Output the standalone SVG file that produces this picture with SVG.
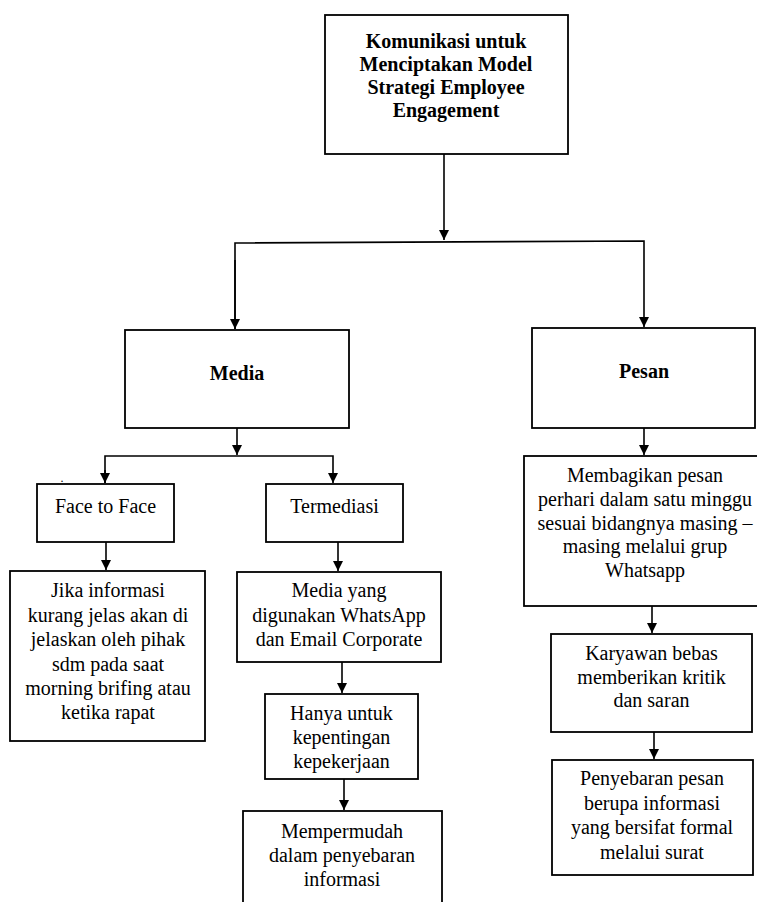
<svg xmlns="http://www.w3.org/2000/svg" width="757" height="902" viewBox="0 0 757 902">
<style>
.box{fill:#fff;stroke:#000;stroke-width:1.8}
.t{font-family:"Liberation Serif","Times New Roman",serif;font-size:20px;fill:#000;text-anchor:middle}
.b{font-weight:bold}
.c{fill:none;stroke:#000;stroke-width:1.6}
</style>
<defs>
<marker id="ah" markerUnits="userSpaceOnUse" markerWidth="10" markerHeight="10" refX="10" refY="5" orient="auto">
<path d="M0,0 L10,5 L0,10 z" fill="#000"/>
</marker>
</defs>
<rect width="757" height="902" fill="#fff"/>
<g id="connectors">
<line class="c" x1="444" y1="154" x2="444" y2="240" marker-end="url(#ah)"/>
<polyline class="c" points="235,329 235,243 644,241 644,327" marker-end="url(#ah)"/>
<line class="c" x1="235" y1="260" x2="235" y2="329" marker-end="url(#ah)"/>
<line class="c" x1="237" y1="428" x2="237" y2="455" marker-end="url(#ah)"/>
<polyline class="c" points="105,483 105,456 333,456 333,483" marker-end="url(#ah)"/>
<line class="c" x1="105" y1="470" x2="105" y2="483" marker-end="url(#ah)"/>
<line class="c" x1="106" y1="542" x2="106" y2="570" marker-end="url(#ah)"/>
<line class="c" x1="338" y1="542" x2="338" y2="571" marker-end="url(#ah)"/>
<line class="c" x1="342" y1="662" x2="342" y2="693" marker-end="url(#ah)"/>
<line class="c" x1="344" y1="779" x2="344" y2="810" marker-end="url(#ah)"/>
<line class="c" x1="644" y1="428" x2="644" y2="455" marker-end="url(#ah)"/>
<line class="c" x1="652" y1="606" x2="652" y2="633" marker-end="url(#ah)"/>
<line class="c" x1="654" y1="732" x2="654" y2="759" marker-end="url(#ah)"/>
</g>
<g id="top">
<rect class="box" x="325" y="15" width="243" height="139"/>
<text class="t b" x="446" y="48">Komunikasi untuk</text>
<text class="t b" x="446" y="71">Menciptakan Model</text>
<text class="t b" x="446" y="94">Strategi Employee</text>
<text class="t b" x="446" y="117">Engagement</text>
</g>
<g id="media">
<rect class="box" x="125" y="330" width="224" height="98"/>
<text class="t b" x="237" y="380">Media</text>
</g>
<g id="pesan">
<rect class="box" x="532" y="328" width="223" height="100"/>
<text class="t b" x="644" y="378">Pesan</text>
</g>
<text class="t" x="62" y="482" style="font-size:12px">.</text>
<g id="face">
<rect class="box" x="37" y="484" width="137" height="58"/>
<text class="t" x="105.5" y="513">Face to Face</text>
</g>
<g id="termediasi">
<rect class="box" x="266" y="484" width="137" height="58"/>
<text class="t" x="334.5" y="513">Termediasi</text>
</g>
<g id="jika">
<rect class="box" x="10" y="571" width="195" height="170"/>
<text class="t" x="108" y="597">Jika informasi</text>
<text class="t" x="108" y="621.5">kurang jelas akan di</text>
<text class="t" x="108" y="646">jelaskan oleh pihak</text>
<text class="t" x="108" y="670.5">sdm pada saat</text>
<text class="t" x="108" y="695">morning brifing atau</text>
<text class="t" x="108" y="719">ketika rapat</text>
</g>
<g id="mediayang">
<rect class="box" x="237" y="572" width="204" height="90"/>
<text class="t" x="339" y="597">Media yang</text>
<text class="t" x="339" y="622">digunakan WhatsApp</text>
<text class="t" x="339" y="646">dan Email Corporate</text>
</g>
<g id="hanya">
<rect class="box" x="265" y="694" width="153" height="85"/>
<text class="t" x="341.5" y="720">Hanya untuk</text>
<text class="t" x="341.5" y="744">kepentingan</text>
<text class="t" x="341.5" y="768">kepekerjaan</text>
</g>
<g id="mempermudah">
<rect class="box" x="243" y="811" width="199" height="110"/>
<text class="t" x="342" y="838">Mempermudah</text>
<text class="t" x="342" y="862">dalam penyebaran</text>
<text class="t" x="342" y="886">informasi</text>
</g>
<g id="membagikan">
<rect class="box" x="524" y="456" width="242" height="150"/>
<text class="t" x="645" y="482">Membagikan pesan</text>
<text class="t" x="645" y="506">perhari dalam satu minggu</text>
<text class="t" x="645" y="530">sesuai bidangnya masing –</text>
<text class="t" x="645" y="553">masing melalui grup</text>
<text class="t" x="645" y="577">Whatsapp</text>
</g>
<g id="karyawan">
<rect class="box" x="551" y="634" width="201" height="98"/>
<text class="t" x="651.5" y="660">Karyawan bebas</text>
<text class="t" x="651.5" y="684">memberikan kritik</text>
<text class="t" x="651.5" y="707">dan saran</text>
</g>
<g id="penyebaran">
<rect class="box" x="552" y="760" width="201" height="115"/>
<text class="t" x="652" y="785">Penyebaran pesan</text>
<text class="t" x="652" y="810">berupa informasi</text>
<text class="t" x="652" y="834">yang bersifat formal</text>
<text class="t" x="652" y="859">melalui surat</text>
</g>
</svg>
